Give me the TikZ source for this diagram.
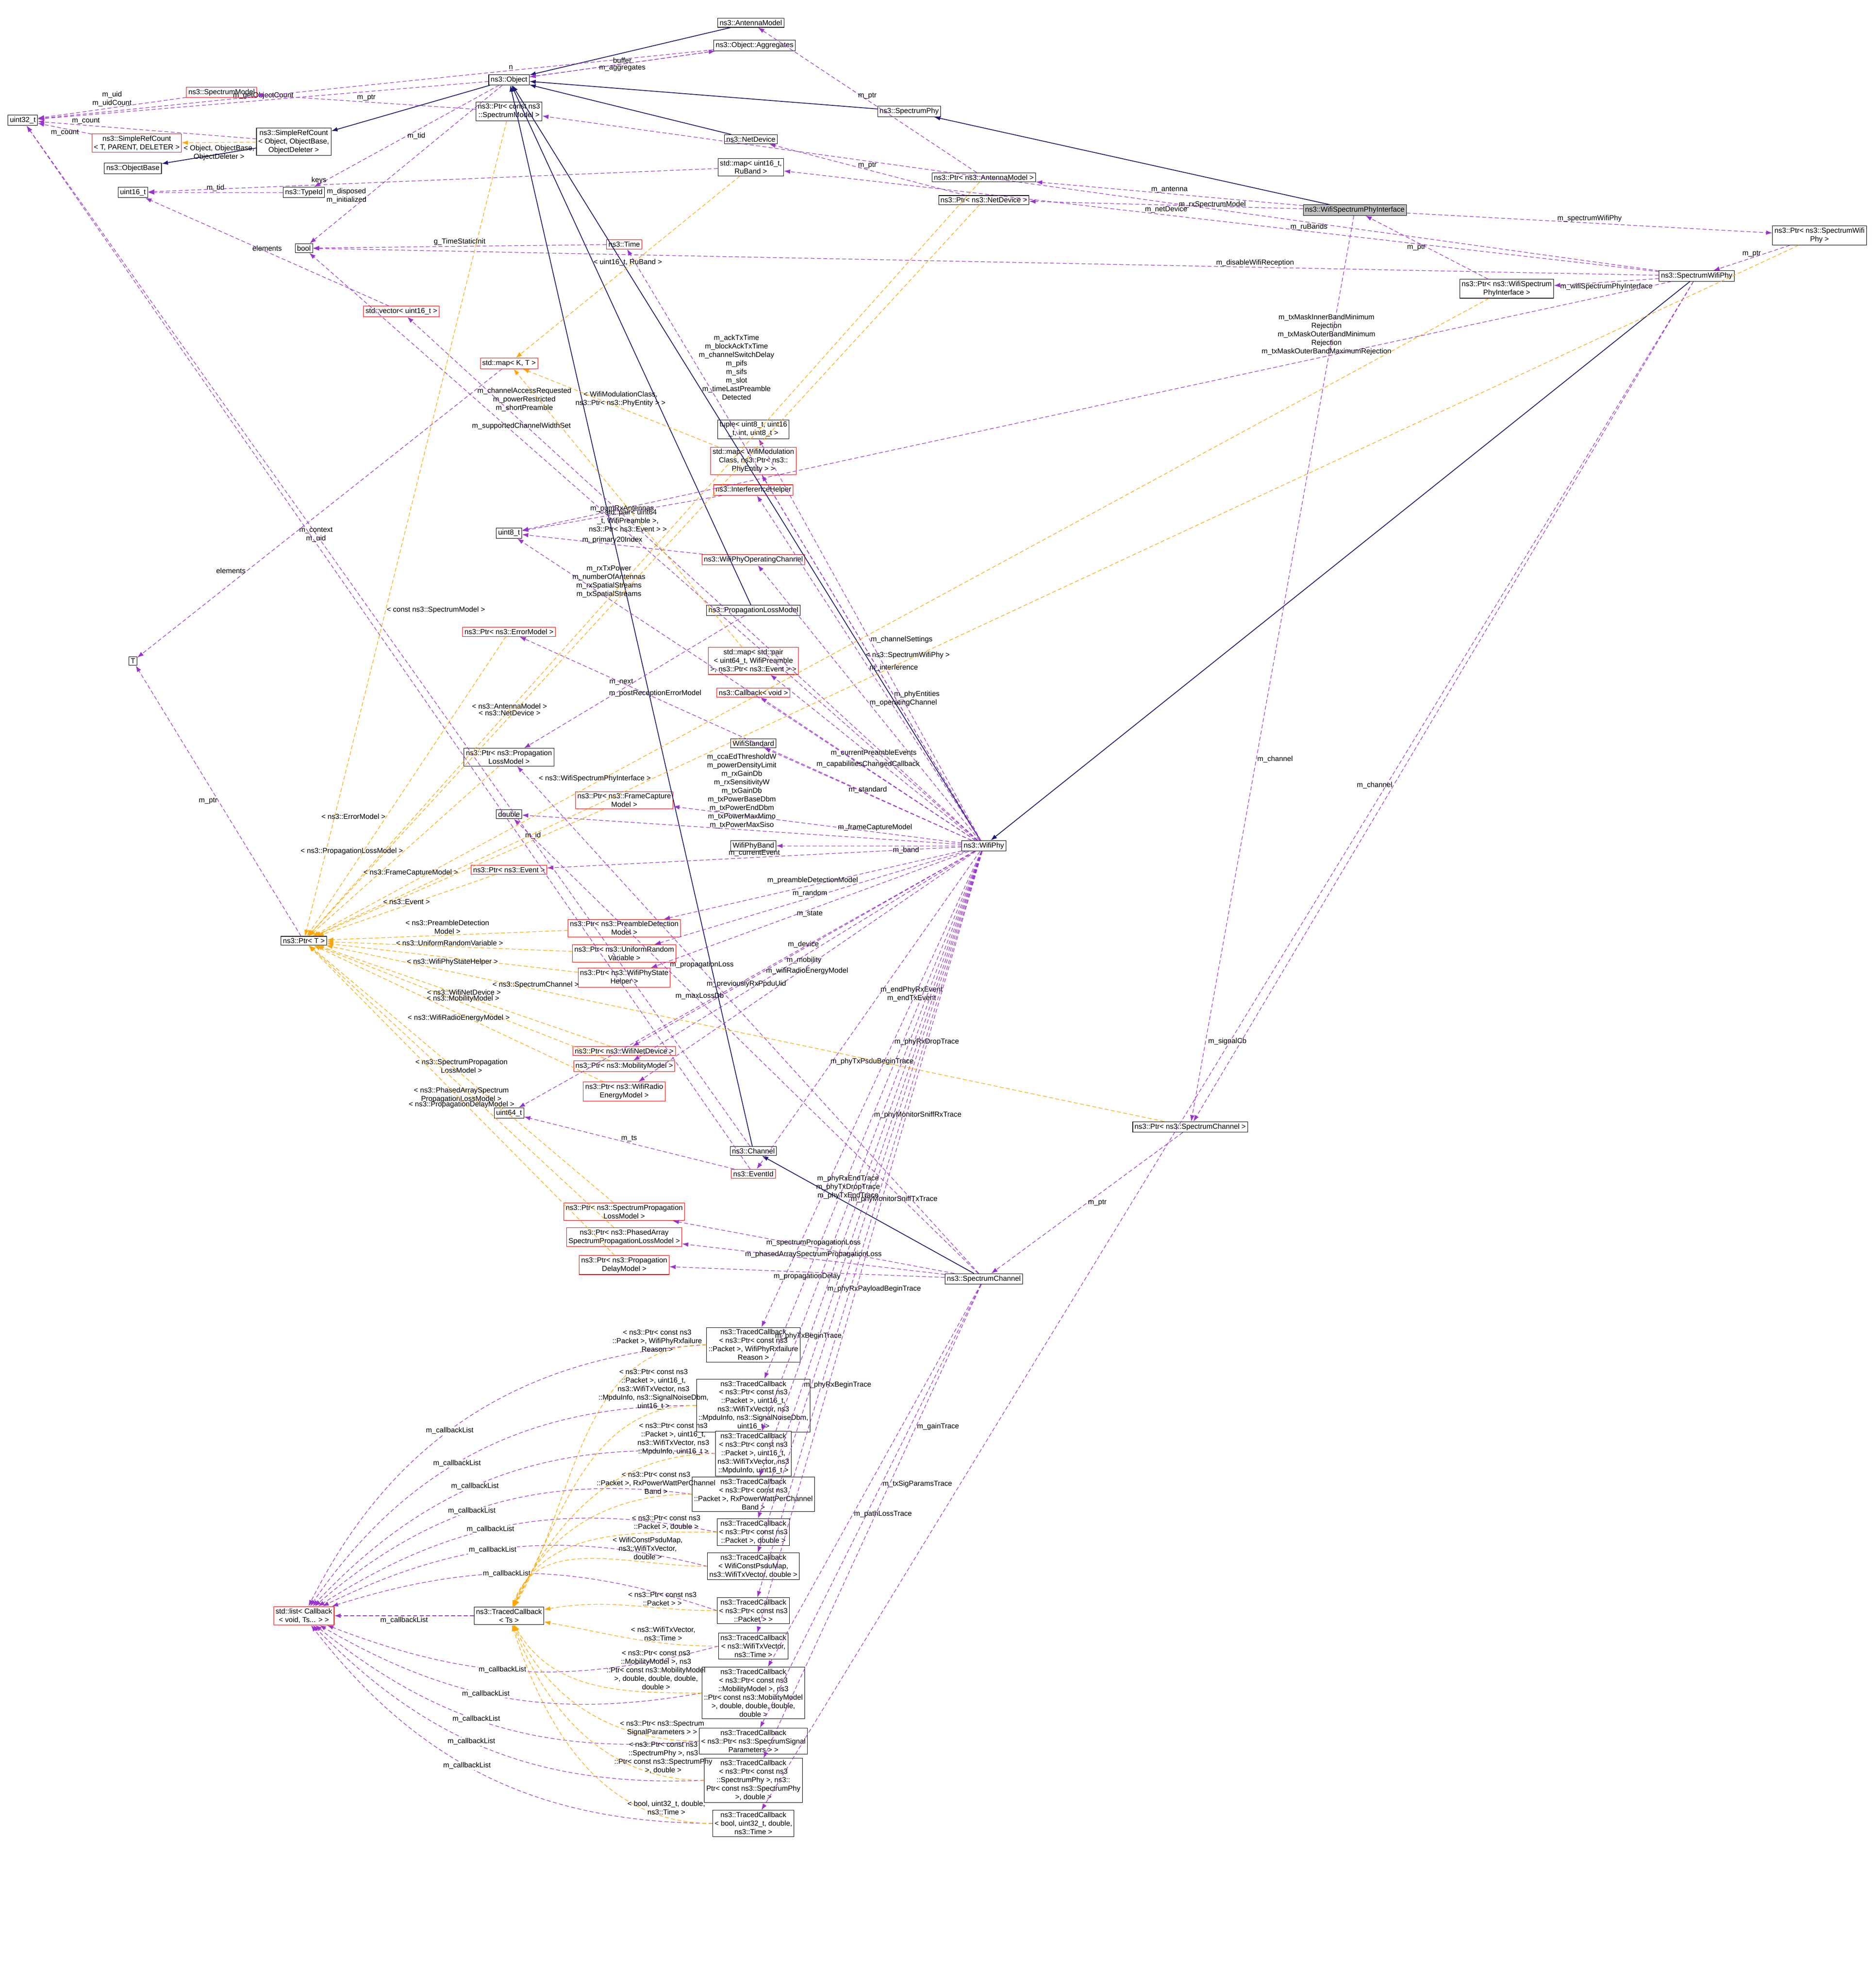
\documentclass[tikz,border=0pt]{standalone}
\usepackage{fontspec}
\setmainfont{Liberation Sans}
\usetikzlibrary{arrows.meta,positioning}
\definecolor{inhblue}{HTML}{191970}
\definecolor{usepurple}{HTML}{9A32CD}
\definecolor{tmplorange}{HTML}{FFA500}
\tikzset{%
    cls/.style = {
        draw=black,
        line width=0.3pt,
        rectangle,
        fill=white,
        inner sep=1.2pt,
        align=center,
        font=\fontsize{4.6}{5.4}\selectfont,
    },
    redcls/.style = {
        cls,
        draw=red,
    },
    rootcls/.style = {
        cls,
        fill=black!25,
    },
    inh/.style = {
        draw=inhblue,
        line width=0.5pt,
        -{Latex[length=1.4mm,width=1mm]},
    },
    usage/.style = {
        draw=usepurple,
        line width=0.35pt,
        dash pattern=on 2.5pt off 1.5pt,
        -{Latex[length=1.4mm,width=1mm]},
    },
    tmpl/.style = {
        draw=tmplorange,
        line width=0.35pt,
        dash pattern=on 2.5pt off 1.5pt,
        -{Latex[length=1.4mm,width=1mm]},
    },
    lbl/.style = {
        font=\fontsize{4.6}{5.4}\selectfont,
        align=center,
        inner sep=0.5pt,
    },
}
\begin{document}
\begin{tikzpicture}[x=0.02824cm,y=-0.02824cm]
    \useasboundingbox (0,0) rectangle (1480,1570);
    % classes
    \node [rootcls] (wspi) at (1070,166) {ns3::WifiSpectrumPhyInterface};
    \node [cls] (object) at (402,63) {ns3::Object};
    \node [cls] (antenna) at (593,18) {ns3::AntennaModel};
    \node [cls] (aggr) at (596,36) {ns3::Object::Aggregates};
    \node [redcls] (specmodel) at (175,73) {ns3::SpectrumModel};
    \node [cls] (ptrspecmodel) at (402,88) {ns3::Ptr< const ns3\\::SpectrumModel >};
    \node [cls] (uint32) at (18,95) {uint32\_t};
    \node [cls] (srcobj) at (232,112) {ns3::SimpleRefCount\\< Object, ObjectBase,\\ ObjectDeleter >};
    \node [redcls] (srct) at (108,113) {ns3::SimpleRefCount\\< T, PARENT, DELETER >};
    \node [cls] (objbase) at (105,133) {ns3::ObjectBase};
    \node [cls] (uint16) at (105,152) {uint16\_t};
    \node [cls] (typeid) at (240,152) {ns3::TypeId};
    \node [cls] (bool) at (240,196) {bool};
    \node [cls] (specphy) at (718,88) {ns3::SpectrumPhy};
    \node [cls] (netdev) at (593,110) {ns3::NetDevice};
    \node [cls] (rumap) at (593,132) {std::map< uint16\_t,\\ RuBand >};
    \node [cls] (ptrant) at (777,140) {ns3::Ptr< ns3::AntennaModel >};
    \node [cls] (ptrnetdev) at (777,158) {ns3::Ptr< ns3::NetDevice >};
    \node [redcls] (time) at (493,193) {ns3::Time};
    \node [redcls] (vec16) at (317,246) {std::vector< uint16\_t >};
    \node [redcls] (mapkt) at (402,287) {std::map< K, T >};
    \node [cls] (ptrswp) at (1437,186) {ns3::Ptr< ns3::SpectrumWifi\\Phy >};
    \node [cls] (swp) at (1340,218) {ns3::SpectrumWifiPhy};
    \node [cls] (ptrwspi) at (1190,228) {ns3::Ptr< ns3::WifiSpectrum\\PhyInterface >};
    \node [cls] (tuple) at (595,339) {tuple< uint8\_t, uint16\\\_t, int, uint8\_t >};
    \node [redcls] (phyent) at (595,364) {std::map< WifiModulation\\Class, ns3::Ptr< ns3::\\PhyEntity > >};
    \node [redcls] (interf) at (595,387) {ns3::InterferenceHelper};
    \node [cls] (uint8) at (402,421) {uint8\_t};
    \node [redcls] (opchan) at (595,442) {ns3::WifiPhyOperatingChannel};
    \node [cls] (proploss) at (595,482) {ns3::PropagationLossModel};
    \node [redcls] (ptrerr) at (402,499) {ns3::Ptr< ns3::ErrorModel >};
    \node [redcls] (evmap) at (595,522) {std::map< std::pair\\< uint64\_t, WifiPreamble\\ >, ns3::Ptr< ns3::Event > >};
    \node [redcls] (cbvoid) at (595,547) {ns3::Callback< void >};
    \node [cls] (tt) at (105,522) {T};
    \node [cls] (standard) at (595,587) {WifiStandard};
    \node [cls] (ptrproploss) at (402,598) {ns3::Ptr< ns3::Propagation\\LossModel >};
    \node [redcls] (ptrfc) at (493,632) {ns3::Ptr< ns3::FrameCapture\\Model >};
    \node [cls] (double) at (402,643) {double};
    \node [cls] (band) at (595,668) {WifiPhyBand};
    \node [cls] (wifiphy) at (777,668) {ns3::WifiPhy};
    \node [redcls] (ptrevent) at (402,687) {ns3::Ptr< ns3::Event >};
    \node [cls] (ptrt) at (240,743) {ns3::Ptr< T >};
    \node [redcls] (ptrpd) at (493,733) {ns3::Ptr< ns3::PreambleDetection\\Model >};
    \node [redcls] (ptrrand) at (493,753) {ns3::Ptr< ns3::UniformRandom\\Variable >};
    \node [redcls] (ptrstate) at (493,772) {ns3::Ptr< ns3::WifiPhyState\\Helper >};
    \node [redcls] (ptrwnd) at (493,830) {ns3::Ptr< ns3::WifiNetDevice >};
    \node [redcls] (ptrmob) at (493,842) {ns3::Ptr< ns3::MobilityModel >};
    \node [redcls] (ptrenergy) at (493,862) {ns3::Ptr< ns3::WifiRadio\\EnergyModel >};
    \node [cls] (uint64) at (402,879) {uint64\_t};
    \node [cls] (channel) at (595,909) {ns3::Channel};
    \node [redcls] (eventid) at (595,927) {ns3::EventId};
    \node [cls] (ptrspecchan) at (940,890) {ns3::Ptr< ns3::SpectrumChannel >};
    \node [redcls] (ptrspl) at (493,957) {ns3::Ptr< ns3::SpectrumPropagation\\LossModel >};
    \node [redcls] (ptrpa) at (493,977) {ns3::Ptr< ns3::PhasedArray\\SpectrumPropagationLossModel >};
    \node [redcls] (ptrdelay) at (493,999) {ns3::Ptr< ns3::Propagation\\DelayModel >};
    \node [cls] (specchan) at (777,1010) {ns3::SpectrumChannel};
    \node [redcls] (cblist) at (240,1276) {std::list< Callback\\< void, Ts... > >};
    \node [cls] (tcts) at (402,1276) {ns3::TracedCallback\\< Ts >};
    \node [cls] (tc1) at (595,1062) {ns3::TracedCallback\\< ns3::Ptr< const ns3\\::Packet >, WifiPhyRxfailure\\Reason >};
    \node [cls] (tc2) at (595,1110) {ns3::TracedCallback\\< ns3::Ptr< const ns3\\::Packet >, uint16\_t,\\ ns3::WifiTxVector, ns3\\::MpduInfo, ns3::SignalNoiseDbm,\\ uint16\_t >};
    \node [cls] (tc3) at (595,1148) {ns3::TracedCallback\\< ns3::Ptr< const ns3\\::Packet >, uint16\_t,\\ ns3::WifiTxVector, ns3\\::MpduInfo, uint16\_t >};
    \node [cls] (tc4) at (595,1180) {ns3::TracedCallback\\< ns3::Ptr< const ns3\\::Packet >, RxPowerWattPerChannel\\Band >};
    \node [cls] (tc5) at (595,1210) {ns3::TracedCallback\\< ns3::Ptr< const ns3\\::Packet >, double >};
    \node [cls] (tc6) at (595,1237) {ns3::TracedCallback\\< WifiConstPsduMap,\\ ns3::WifiTxVector, double >};
    \node [cls] (tc7) at (595,1272) {ns3::TracedCallback\\< ns3::Ptr< const ns3\\::Packet > >};
    \node [cls] (tc8) at (595,1300) {ns3::TracedCallback\\< ns3::WifiTxVector,\\ ns3::Time >};
    \node [cls] (tc9) at (595,1337) {ns3::TracedCallback\\< ns3::Ptr< const ns3\\::MobilityModel >, ns3\\::Ptr< const ns3::MobilityModel\\ >, double, double, double,\\ double >};
    \node [cls] (tc10) at (595,1375) {ns3::TracedCallback\\< ns3::Ptr< ns3::SpectrumSignal\\Parameters > >};
    \node [cls] (tc11) at (595,1406) {ns3::TracedCallback\\< ns3::Ptr< const ns3\\::SpectrumPhy >, ns3::\\Ptr< const ns3::SpectrumPhy\\ >, double >};
    \node [cls] (tc12) at (595,1440) {ns3::TracedCallback\\< bool, uint32\_t, double,\\ ns3::Time >};

    % inheritance
    \draw [inh] (srcobj) -- (objbase);
    \draw [inh] (object) -- (srcobj);
    \draw [inh] (antenna) -- (object);
    \draw [inh] (specphy) -- (object);
    \draw [inh] (netdev) -- (object);
    \draw [inh] (wifiphy) -- (object);
    \draw [inh] (proploss) -- (object);
    \draw [inh] (channel) -- (object);
    \draw [inh] (wspi) -- (specphy);
    \draw [inh] (swp) -- (wifiphy);
    \draw [inh] (specchan) -- (channel);

    % usage
    \draw [usage] (object) -- node [lbl,above] {m\_getObjectCount} (uint32);
    \draw [usage] (aggr) -- node [lbl,above,pos=0.3] {n} (uint32);
    \draw [usage] (aggr) -- node [lbl,above] {buffer} (object);
    \draw [usage] (object) -- node [lbl,below] {m\_aggregates} (aggr);
    \draw [usage] (object) -- node [lbl,right] {m\_tid} (typeid);
    \draw [usage] (object) -- node [lbl,pos=0.7,left] {m\_disposed\\m\_initialized} (bool);
    \draw [usage] (specmodel) -- node [lbl,above] {m\_uid\\m\_uidCount} (uint32);
    \draw [usage] (ptrspecmodel) -- node [lbl,above] {m\_ptr} (specmodel);
    \draw [usage] (srcobj) -- node [lbl,above,pos=0.78] {m\_count} (uint32);
    \draw [usage] (srct) -- node [lbl,below] {m\_count} (uint32);
    \draw [usage] (typeid) -- node [lbl,above] {m\_tid} (uint16);
    \draw [usage] (rumap) -- node [lbl,above,pos=0.7] {keys} (uint16);
    \draw [usage] (vec16) -- node [lbl,above] {elements} (uint16);
    \draw [usage] (time) -- node [lbl,above] {g\_TimeStaticInit} (bool);
    \draw [usage] (ptrant) -- node [lbl,above] {m\_ptr} (antenna);
    \draw [usage] (ptrnetdev) -- node [lbl,above] {m\_ptr} (netdev);
    \draw [usage] (wspi) -- node [lbl,below] {m\_netDevice} (ptrnetdev);
    \draw [usage] (wspi) -- node [lbl,above] {m\_antenna} (ptrant);
    \draw [usage] (wspi) -- node [lbl,above] {m\_spectrumWifiPhy} (ptrswp);
    \draw [usage] (wspi) -- node [lbl,pos=0.6,right] {m\_channel} (ptrspecchan);
    \draw [usage] (swp) -- node [lbl,pos=0.4,above] {m\_rxSpectrumModel} (ptrspecmodel);
    \draw [usage] (swp) -- node [lbl,pos=0.4,above] {m\_ruBands} (rumap);
    \draw [usage] (ptrswp) -- node [lbl,above] {m\_ptr} (swp);
    \draw [usage] (swp) -- node [lbl,below] {m\_wifiSpectrumPhyInterface} (ptrwspi);
    \draw [usage] (ptrwspi) -- node [lbl,left] {m\_ptr} (wspi);
    \draw [usage] (swp) -- node [lbl,pos=0.3,above] {m\_disableWifiReception} (bool);
    \draw [usage] (swp) -- node [lbl,pos=0.3,above] {m\_txMaskInnerBandMinimum\\Rejection\\m\_txMaskOuterBandMinimum\\Rejection\\m\_txMaskOuterBandMaximumRejection} (uint8);
    \draw [usage] (swp) -- node [lbl,pos=0.6,left] {m\_channel} (ptrspecchan);
    \draw [usage] (swp) -- node [lbl,pos=0.5,above] {m\_signalCb} (tc12);
    \draw [usage] (ptrspecchan) -- node [lbl,right] {m\_ptr} (specchan);
    \draw [usage] (mapkt) -- node [lbl,pos=0.7,left] {elements} (tt);
    \draw [usage] (ptrt) -- node [lbl,left] {m\_ptr} (tt);
    \draw [usage] (interf) -- node [lbl,above] {m\_numRxAntennas} (uint8);
    \draw [usage] (proploss) -- node [lbl,left] {m\_next} (ptrproploss);
    \draw [usage] (channel) -- node [lbl,pos=0.3,above] {m\_id} (uint32);
    \draw [usage] (eventid) -- node [lbl,above] {m\_ts} (uint64);
    \draw [usage] (eventid) -- node [lbl,pos=0.6,above] {m\_context\\m\_uid} (uint32);
    % wifi phy members
    \draw [usage] (wifiphy) -- node [lbl,pos=0.8,right] {m\_ackTxTime\\m\_blockAckTxTime\\m\_channelSwitchDelay\\m\_pifs\\m\_sifs\\m\_slot\\m\_timeLastPreamble\\Detected} (time);
    \draw [usage] (wifiphy) -- node [lbl,pos=0.75,right] {m\_channelAccessRequested\\m\_powerRestricted\\m\_shortPreamble} (bool);
    \draw [usage] (wifiphy) -- node [lbl,pos=0.8,below] {m\_supportedChannelWidthSet} (vec16);
    \draw [usage] (wifiphy) -- node [lbl,pos=0.5,right] {m\_channelSettings} (tuple);
    \draw [usage] (wifiphy) -- node [lbl,pos=0.4,right] {m\_phyEntities} (phyent);
    \draw [usage] (wifiphy) -- node [lbl,pos=0.5,right] {m\_interference} (interf);
    \draw [usage] (wifiphy) -- node [lbl,pos=0.8,above] {m\_rxTxPower\\m\_numberOfAntennas\\m\_rxSpatialStreams\\m\_txSpatialStreams} (uint8);
    \draw [usage] (opchan) -- node [lbl,above] {m\_primary20Index} (uint8);
    \draw [usage] (wifiphy) -- node [lbl,pos=0.5,right] {m\_operatingChannel} (opchan);
    \draw [usage] (wifiphy) -- node [lbl,pos=0.7,above] {m\_postReceptionErrorModel} (ptrerr);
    \draw [usage] (wifiphy) -- node [lbl,pos=0.5,above] {m\_currentPreambleEvents} (evmap);
    \draw [usage] (wifiphy) -- node [lbl,pos=0.5,above] {m\_capabilitiesChangedCallback} (cbvoid);
    \draw [usage] (wifiphy) -- node [lbl,pos=0.5,above] {m\_standard} (standard);
    \draw [usage] (wifiphy) -- node [lbl,pos=0.3,above] {m\_frameCaptureModel} (ptrfc);
    \draw [usage] (wifiphy) -- node [lbl,pos=0.5,above] {m\_ccaEdThresholdW\\m\_powerDensityLimit\\m\_rxGainDb\\m\_rxSensitivityW\\m\_txGainDb\\m\_txPowerBaseDbm\\m\_txPowerEndDbm\\m\_txPowerMaxMimo\\m\_txPowerMaxSiso} (double);
    \draw [usage] (wifiphy) -- node [lbl,pos=0.3,below] {m\_band} (band);
    \draw [usage] (wifiphy) -- node [lbl,pos=0.5,above] {m\_currentEvent} (ptrevent);
    \draw [usage] (wifiphy) -- node [lbl,pos=0.5,above] {m\_preambleDetectionModel} (ptrpd);
    \draw [usage] (wifiphy) -- node [lbl,pos=0.5,above] {m\_random} (ptrrand);
    \draw [usage] (wifiphy) -- node [lbl,pos=0.5,below] {m\_state} (ptrstate);
    \draw [usage] (wifiphy) -- node [lbl,pos=0.5,above] {m\_device} (ptrwnd);
    \draw [usage] (wifiphy) -- node [lbl,pos=0.5,below] {m\_mobility} (ptrmob);
    \draw [usage] (wifiphy) -- node [lbl,pos=0.5,below] {m\_wifiRadioEnergyModel} (ptrenergy);
    \draw [usage] (wifiphy) -- node [lbl,pos=0.5,below] {m\_previouslyRxPpduUid} (uint64);
    \draw [usage] (wifiphy) -- node [lbl,pos=0.45,right] {m\_endPhyRxEvent\\m\_endTxEvent} (eventid);
    \draw [usage] (wifiphy) -- node [lbl,pos=0.4,right] {m\_phyRxDropTrace} (tc1);
    \draw [usage] (wifiphy) -- node [lbl,pos=0.5,right] {m\_phyMonitorSniffRxTrace} (tc2);
    \draw [usage] (wifiphy) -- node [lbl,pos=0.6,right] {m\_phyMonitorSniffTxTrace} (tc3);
    \draw [usage] (wifiphy) -- node [lbl,pos=0.7,right] {m\_phyRxPayloadBeginTrace} (tc4);
    \draw [usage] (wifiphy) -- node [lbl,pos=0.8,right] {m\_phyRxBeginTrace} (tc5);
    \draw [usage] (wifiphy) -- node [lbl,pos=0.3,left] {m\_phyTxPsduBeginTrace} (tc6);
    \draw [usage] (wifiphy) -- node [lbl,pos=0.45,left] {m\_phyRxEndTrace\\m\_phyTxDropTrace\\m\_phyTxEndTrace} (tc7);
    \draw [usage] (wifiphy) -- node [lbl,pos=0.62,left] {m\_phyTxBeginTrace} (tc8);
    % spectrum channel members
    \draw [usage] (specchan) -- node [lbl,pos=0.6,above] {m\_propagationLoss} (ptrproploss);
    \draw [usage] (specchan) -- node [lbl,pos=0.6,above] {m\_maxLossDb} (double);
    \draw [usage] (specchan) -- node [lbl,pos=0.5,above] {m\_spectrumPropagationLoss} (ptrspl);
    \draw [usage] (specchan) -- node [lbl,pos=0.5,above] {m\_phasedArraySpectrumPropagationLoss} (ptrpa);
    \draw [usage] (specchan) -- node [lbl,pos=0.5,below] {m\_propagationDelay} (ptrdelay);
    \draw [usage] (specchan) -- node [lbl,pos=0.3,right] {m\_gainTrace} (tc11);
    \draw [usage] (specchan) -- node [lbl,pos=0.45,right] {m\_txSigParamsTrace} (tc10);
    \draw [usage] (specchan) -- node [lbl,pos=0.6,right] {m\_pathLossTrace} (tc9);
    % callback lists
    \draw [usage] (tcts) -- node [lbl,below] {m\_callbackList} (cblist);
    \foreach \tc/\bend in {tc1/30,tc2/28,tc3/26,tc4/24,tc5/22,tc6/20,tc7/18,tc8/-18,tc9/-20,tc10/-22,tc11/-24,tc12/-26}
        \draw [usage] (\tc.west) to [bend right=\bend] node [lbl,pos=0.55,fill=white] {m\_callbackList} (cblist);

    % templates
    \draw [tmpl] (ptrspecmodel) -- node [lbl,pos=0.6,right] {< const ns3::SpectrumModel >} (ptrt);
    \draw [tmpl] (ptrant) -- node [lbl,pos=0.7,above] {< ns3::AntennaModel >} (ptrt);
    \draw [tmpl] (ptrnetdev) -- node [lbl,pos=0.7,above] {< ns3::NetDevice >} (ptrt);
    \draw [tmpl] (ptrswp) -- node [lbl,pos=0.6,above] {< ns3::SpectrumWifiPhy >} (ptrt);
    \draw [tmpl] (ptrwspi) -- node [lbl,pos=0.76,above] {< ns3::WifiSpectrumPhyInterface >} (ptrt);
    \draw [tmpl] (ptrspecchan) -- node [lbl,pos=0.75,above] {< ns3::SpectrumChannel >} (ptrt);
    \draw [tmpl] (ptrerr) -- node [lbl,pos=0.6,left] {< ns3::ErrorModel >} (ptrt);
    \draw [tmpl] (ptrproploss) -- node [lbl,pos=0.5,left] {< ns3::PropagationLossModel >} (ptrt);
    \draw [tmpl] (ptrfc) -- node [lbl,pos=0.5,left] {< ns3::FrameCaptureModel >} (ptrt);
    \draw [tmpl] (ptrevent) -- node [lbl,pos=0.5,above] {< ns3::Event >} (ptrt);
    \draw [tmpl] (ptrpd) -- node [lbl,pos=0.5,above] {< ns3::PreambleDetection\\Model >} (ptrt);
    \draw [tmpl] (ptrrand) -- node [lbl,pos=0.5,above] {< ns3::UniformRandomVariable >} (ptrt);
    \draw [tmpl] (ptrstate) -- node [lbl,pos=0.5,below] {< ns3::WifiPhyStateHelper >} (ptrt);
    \draw [tmpl] (ptrwnd) -- node [lbl,pos=0.5,above] {< ns3::WifiNetDevice >} (ptrt);
    \draw [tmpl] (ptrmob) -- node [lbl,pos=0.5,above] {< ns3::MobilityModel >} (ptrt);
    \draw [tmpl] (ptrenergy) -- node [lbl,pos=0.5,below] {< ns3::WifiRadioEnergyModel >} (ptrt);
    \draw [tmpl] (ptrspl) -- node [lbl,pos=0.5,above] {< ns3::SpectrumPropagation\\LossModel >} (ptrt);
    \draw [tmpl] (ptrpa) -- node [lbl,pos=0.5,below] {< ns3::PhasedArraySpectrum\\PropagationLossModel >} (ptrt);
    \draw [tmpl] (ptrdelay) -- node [lbl,pos=0.5,below] {< ns3::PropagationDelayModel >} (ptrt);
    \draw [tmpl] (rumap) -- node [lbl,pos=0.5,above] {< uint16\_t, RuBand >} (mapkt);
    \draw [tmpl] (phyent) -- node [lbl,pos=0.5,above] {< WifiModulationClass,\\ns3::Ptr< ns3::PhyEntity > >} (mapkt);
    \draw [tmpl] (evmap) -- node [lbl,pos=0.5,below] {< std::pair< uint64\\\_t, WifiPreamble >,\\ns3::Ptr< ns3::Event > >} (mapkt);
    \draw [tmpl] (srcobj) -- node [lbl,below=1pt] {< Object, ObjectBase,\\ObjectDeleter >} (srct);
    % traced callback templates
    \draw [tmpl] (tc1.west) to [out=180,in=60] node [lbl,pos=0.15,above=1pt] {< ns3::Ptr< const ns3\\::Packet >, WifiPhyRxfailure\\Reason >} (tcts);
    \draw [tmpl] (tc2.west) to [out=180,in=62] node [lbl,pos=0.15,above=1pt] {< ns3::Ptr< const ns3\\::Packet >, uint16\_t,\\ns3::WifiTxVector, ns3\\::MpduInfo, ns3::SignalNoiseDbm,\\uint16\_t >} (tcts);
    \draw [tmpl] (tc3.west) to [out=180,in=64] node [lbl,pos=0.15,above=1pt] {< ns3::Ptr< const ns3\\::Packet >, uint16\_t,\\ns3::WifiTxVector, ns3\\::MpduInfo, uint16\_t >} (tcts);
    \draw [tmpl] (tc4.west) to [out=180,in=66] node [lbl,pos=0.15,above=1pt] {< ns3::Ptr< const ns3\\::Packet >, RxPowerWattPerChannel\\Band >} (tcts);
    \draw [tmpl] (tc5.west) to [out=180,in=68] node [lbl,pos=0.2,above=1pt] {< ns3::Ptr< const ns3\\::Packet >, double >} (tcts);
    \draw [tmpl] (tc6.west) to [out=180,in=70] node [lbl,pos=0.25,above=1pt] {< WifiConstPsduMap,\\ns3::WifiTxVector,\\double >} (tcts);
    \draw [tmpl] (tc7.west) to [out=180,in=10] node [lbl,pos=0.3,above=1pt] {< ns3::Ptr< const ns3\\::Packet > >} (tcts);
    \draw [tmpl] (tc8.west) to [out=180,in=-10] node [lbl,pos=0.3,above=1pt] {< ns3::WifiTxVector,\\ns3::Time >} (tcts);
    \draw [tmpl] (tc9.west) to [out=180,in=-60] node [lbl,pos=0.2,above=1pt] {< ns3::Ptr< const ns3\\::MobilityModel >, ns3\\::Ptr< const ns3::MobilityModel\\ >, double, double, double,\\double >} (tcts);
    \draw [tmpl] (tc10.west) to [out=180,in=-64] node [lbl,pos=0.15,above=1pt] {< ns3::Ptr< ns3::Spectrum\\SignalParameters > >} (tcts);
    \draw [tmpl] (tc11.west) to [out=180,in=-68] node [lbl,pos=0.15,above=1pt] {< ns3::Ptr< const ns3\\::SpectrumPhy >, ns3\\::Ptr< const ns3::SpectrumPhy\\ >, double >} (tcts);
    \draw [tmpl] (tc12.west) to [out=180,in=-72] node [lbl,pos=0.15,above=1pt] {< bool, uint32\_t, double,\\ns3::Time >} (tcts);
\end{tikzpicture}
\end{document}
